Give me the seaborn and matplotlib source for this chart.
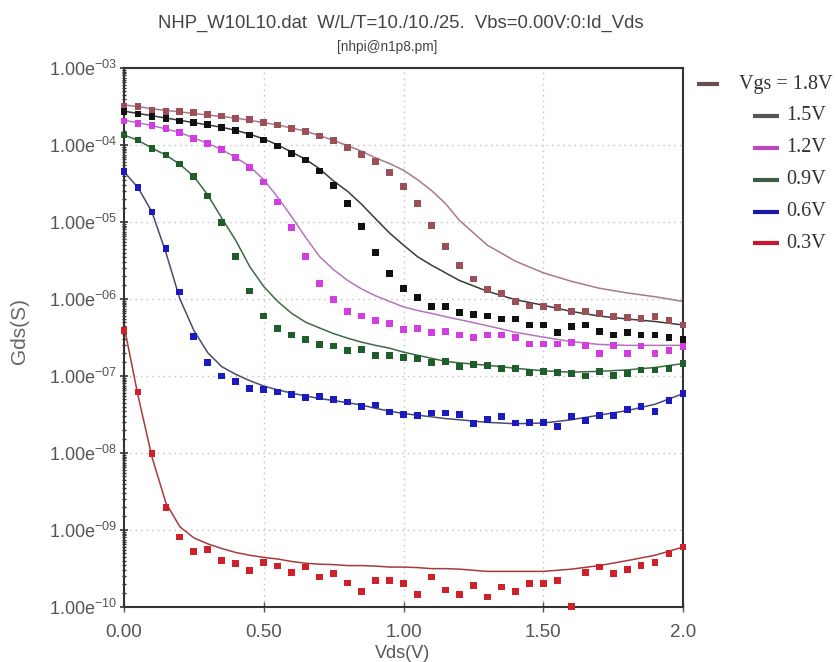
import matplotlib
matplotlib.use("Agg")
import numpy as np
import matplotlib.pyplot as plt
from matplotlib.lines import Line2D
from matplotlib.ticker import FixedLocator, LogLocator, FuncFormatter, NullFormatter
import seaborn as sns


# measured points, Vds step 0.05 V
vds = [0.00, 0.05, 0.10, 0.15, 0.20, 0.25, 0.30, 0.35, 0.40, 0.45,
       0.50, 0.55, 0.60, 0.65, 0.70, 0.75, 0.80, 0.85, 0.90, 0.95,
       1.00, 1.05, 1.10, 1.15, 1.20, 1.25, 1.30, 1.35, 1.40, 1.45,
       1.50, 1.55, 1.60, 1.65, 1.70, 1.75, 1.80, 1.85, 1.90, 1.95, 2.00]

meas_18 = [3.14e-4, 3.14e-4, 2.84e-4, 2.70e-4, 2.70e-4, 2.62e-4, 2.50e-4, 2.38e-4, 2.22e-4, 2.15e-4,
           1.95e-4, 1.82e-4, 1.64e-4, 1.49e-4, 1.31e-4, 1.14e-4, 9.3e-5, 7.6e-5, 6.05e-5, 4.36e-5,
           2.92e-5, 1.74e-5, 9.1e-6, 4.8e-6, 2.75e-6, 1.82e-6, 1.32e-6, 1.17e-6, 9.3e-7, 8.1e-7,
           7.9e-7, 7.8e-7, 6.9e-7, 6.8e-7, 6.5e-7, 5.9e-7, 5.75e-7, 5.6e-7, 5.9e-7, 5.25e-7, 4.6e-7]
meas_15 = [2.70e-4, 2.52e-4, 2.33e-4, 2.22e-4, 2.05e-4, 1.97e-4, 1.85e-4, 1.67e-4, 1.53e-4, 1.35e-4,
           1.16e-4, 9.7e-5, 7.8e-5, 6.4e-5, 4.6e-5, 3.0e-5, 1.74e-5, 8.7e-6, 4.0e-6, 2.14e-6,
           1.36e-6, 1.05e-6, 7.9e-7, 7.9e-7, 6.6e-7, 6.3e-7, 6.0e-7, 5.5e-7, 5.5e-7, 4.6e-7,
           4.6e-7, 3.7e-7, 4.4e-7, 4.6e-7, 3.8e-7, 3.4e-7, 3.7e-7, 3.4e-7, 3.4e-7, 3.2e-7, 3.0e-7]
meas_12 = [2.05e-4, 1.91e-4, 1.78e-4, 1.62e-4, 1.45e-4, 1.22e-4, 1.05e-4, 8.8e-5, 6.8e-5, 5.1e-5,
           3.3e-5, 1.82e-5, 8.5e-6, 3.55e-6, 1.58e-6, 9.8e-7, 6.9e-7, 6.0e-7, 5.25e-7, 4.8e-7,
           4.0e-7, 4.1e-7, 3.7e-7, 3.8e-7, 3.4e-7, 3.2e-7, 3.4e-7, 3.4e-7, 3.2e-7, 2.6e-7,
           2.6e-7, 2.6e-7, 2.7e-7, 2.5e-7, 1.95e-7, 2.5e-7, 1.95e-7, 2.45e-7, 1.95e-7, 2.15e-7, 2.4e-7]
meas_09 = [1.35e-4, 1.16e-4, 9.0e-5, 7.4e-5, 5.65e-5, 3.86e-5, 2.17e-5, 9.8e-6, 3.6e-6, 1.27e-6,
           6.0e-7, 4.1e-7, 3.4e-7, 2.95e-7, 2.57e-7, 2.45e-7, 2.15e-7, 2.2e-7, 1.86e-7, 1.86e-7,
           1.74e-7, 1.7e-7, 1.51e-7, 1.55e-7, 1.32e-7, 1.41e-7, 1.38e-7, 1.26e-7, 1.26e-7, 1.12e-7,
           1.15e-7, 1.12e-7, 1.07e-7, 1.0e-7, 1.15e-7, 1.02e-7, 1.07e-7, 1.2e-7, 1.2e-7, 1.26e-7, 1.45e-7]
meas_06 = [4.5e-5, 2.8e-5, 1.35e-5, 4.5e-6, 1.23e-6, 3.27e-7, 1.48e-7, 1.0e-7, 8.5e-8, 6.8e-8,
           6.6e-8, 6.2e-8, 5.75e-8, 5.25e-8, 5.4e-8, 4.9e-8, 4.6e-8, 4.0e-8, 4.2e-8, 3.4e-8,
           3.16e-8, 3.1e-8, 3.3e-8, 3.3e-8, 3.16e-8, 2.4e-8, 2.75e-8, 2.95e-8, 2.45e-8, 2.5e-8,
           2.5e-8, 2.2e-8, 2.95e-8, 2.63e-8, 3.1e-8, 3.1e-8, 3.7e-8, 4.0e-8, 3.5e-8, 4.8e-8, 5.9e-8]
meas_03 = [3.9e-7, 6.2e-8, 9.8e-9, 1.95e-9, 8.1e-10, 5.25e-10, 5.6e-10, 4.0e-10, 3.7e-10, 3.0e-10,
           3.8e-10, 3.4e-10, 2.8e-10, 3.3e-10, 2.45e-10, 2.75e-10, 2.05e-10, 1.58e-10, 2.2e-10, 2.2e-10,
           2.0e-10, 1.45e-10, 2.45e-10, 1.66e-10, 1.45e-10, 1.9e-10, 1.35e-10, 1.82e-10, 1.58e-10, 2.0e-10,
           2.0e-10, 2.2e-10, 1.02e-10, 2.8e-10, 3.3e-10, 2.7e-10, 3.1e-10, 3.5e-10, 3.8e-10, 4.9e-10, 6.0e-10]

# model curves
sim_vds = [0.00, 0.05, 0.10, 0.15, 0.20, 0.25, 0.30, 0.35, 0.40, 0.45, 0.50,
           0.55, 0.60, 0.65, 0.70, 0.75, 0.80, 0.85, 0.90, 0.95, 1.00, 1.05,
           1.10, 1.15, 1.20, 1.30, 1.40, 1.50, 1.60, 1.70, 1.80, 1.90, 2.00]

sim_18 = [3.31e-4, 3.16e-4, 2.95e-4, 2.82e-4, 2.69e-4, 2.57e-4, 2.45e-4, 2.34e-4, 2.24e-4, 2.09e-4, 1.95e-4,
          1.82e-4, 1.66e-4, 1.51e-4, 1.32e-4, 1.15e-4, 9.8e-5, 8.3e-5, 6.8e-5, 5.75e-5, 4.7e-5, 3.55e-5,
          2.57e-5, 1.74e-5, 1.05e-5, 5.0e-6, 3.1e-6, 2.19e-6, 1.70e-6, 1.38e-6, 1.20e-6, 1.07e-6, 9.3e-7]
sim_15 = [2.75e-4, 2.57e-4, 2.40e-4, 2.24e-4, 2.09e-4, 1.95e-4, 1.82e-4, 1.70e-4, 1.55e-4, 1.38e-4, 1.20e-4,
          1.0e-4, 8.1e-5, 6.5e-5, 4.9e-5, 3.4e-5, 2.5e-5, 1.70e-5, 1.10e-5, 7.2e-6, 5.0e-6, 3.55e-6,
          2.75e-6, 2.19e-6, 1.74e-6, 1.26e-6, 9.8e-7, 8.3e-7, 6.9e-7, 6.0e-7, 5.5e-7, 5.1e-7, 4.6e-7]
sim_12 = [2.09e-4, 1.95e-4, 1.78e-4, 1.62e-4, 1.45e-4, 1.23e-4, 1.05e-4, 8.7e-5, 6.9e-5, 5.25e-5, 3.55e-5,
          2.09e-5, 1.17e-5, 6.3e-6, 3.55e-6, 2.4e-6, 1.74e-6, 1.35e-6, 1.10e-6, 9.3e-7, 7.9e-7, 7.1e-7,
          6.5e-7, 5.9e-7, 5.4e-7, 4.5e-7, 3.7e-7, 3.2e-7, 2.8e-7, 2.57e-7, 2.5e-7, 2.5e-7, 2.5e-7]
sim_09 = [1.35e-4, 1.15e-4, 9.1e-5, 7.4e-5, 5.6e-5, 3.9e-5, 2.24e-5, 1.12e-5, 5.75e-6, 2.63e-6, 1.45e-6,
          9.3e-7, 6.5e-7, 5.0e-7, 4.2e-7, 3.55e-7, 3.1e-7, 2.75e-7, 2.5e-7, 2.3e-7, 2.04e-7, 1.86e-7,
          1.70e-7, 1.55e-7, 1.48e-7, 1.38e-7, 1.26e-7, 1.17e-7, 1.12e-7, 1.15e-7, 1.20e-7, 1.29e-7, 1.45e-7]
sim_06 = [4.5e-5, 2.8e-5, 1.35e-5, 4.0e-6, 1.0e-6, 3.9e-7, 2.0e-7, 1.32e-7, 1.05e-7, 8.7e-8, 7.4e-8,
          6.6e-8, 6.0e-8, 5.5e-8, 5.1e-8, 4.8e-8, 4.5e-8, 4.2e-8, 3.8e-8, 3.5e-8, 3.25e-8, 3.1e-8,
          2.95e-8, 2.8e-8, 2.7e-8, 2.5e-8, 2.4e-8, 2.45e-8, 2.7e-8, 3.1e-8, 3.55e-8, 4.3e-8, 5.9e-8]
sim_03 = [4.5e-7, 5.6e-8, 8.9e-9, 2.24e-9, 1.10e-9, 7.9e-10, 6.6e-10, 5.75e-10, 5.1e-10, 4.7e-10, 4.4e-10,
          4.2e-10, 3.9e-10, 3.7e-10, 3.6e-10, 3.55e-10, 3.45e-10, 3.45e-10, 3.4e-10, 3.3e-10, 3.3e-10, 3.25e-10,
          3.15e-10, 3.15e-10, 3.1e-10, 2.9e-10, 2.9e-10, 2.9e-10, 3.1e-10, 3.45e-10, 4.0e-10, 4.7e-10, 6.0e-10]

y_ticks = [1e-10, 1e-9, 1e-8, 1e-7, 1e-6, 1e-5, 1e-4, 1e-3]
x_ticks = [0.0, 0.5, 1.0, 1.5, 2.0]
x_tick_labels = ["0.00", "0.50", "1.00", "1.50", "2.0"]

legend_labels = ["Vgs = 1.8V", "1.5V", "1.2V", "0.9V", "0.6V", "0.3V"]
marker_colors = ["#9b4f57", "#111111", "#d23ce0", "#1e5e2a", "#1a1ac0", "#d0202a"]
line_colors = ["#a87a88", "#3a3a3a", "#b474bc", "#3d6a45", "#4a4a72", "#a83a3a"]
legend_colors = ["#6b4a52", "#555555", "#b848c0", "#3a5e45", "#1818a8", "#c81830"]

measured = [meas_18, meas_15, meas_12, meas_09, meas_06, meas_03]
simulated = [sim_18, sim_15, sim_12, sim_09, sim_06, sim_03]

sns.set_theme(style="white")
plt.rcParams['font.family'] = ['Liberation Sans', 'DejaVu Sans']
plt.rcParams['mathtext.default'] = 'regular'

W, H = 838, 662
fig = plt.figure(figsize=(W / 100, H / 100), dpi=100)
ax = fig.add_axes([124 / W, 1 - 607 / H, (683 - 124) / W, (607 - 68) / H])

ax.set_yscale('log')
for sim, meas, lc, mc in zip(simulated, measured, line_colors, marker_colors):
    sns.lineplot(x=sim_vds, y=sim, color=lc, lw=1.1, ax=ax, legend=False, zorder=2)
    sns.scatterplot(x=vds, y=meas, marker='s', s=24, color=mc, edgecolor='none',
                    ax=ax, legend=False, zorder=3, clip_on=False)

ax.set_xlim(0, 2.0)
ax.set_ylim(1e-10, 1e-3)

ax.xaxis.set_major_locator(FixedLocator(x_ticks))
ax.set_xticklabels(x_tick_labels)
ax.yaxis.set_major_locator(FixedLocator(y_ticks))
ax.yaxis.set_minor_locator(LogLocator(base=10, subs=[1.5, 2, 2.5, 3, 3.5, 4, 4.5, 5, 5.5, 6, 6.5, 7, 7.5, 8, 8.5, 9, 9.5], numticks=200))
ax.yaxis.set_minor_formatter(NullFormatter())
ax.yaxis.set_major_formatter(FuncFormatter(lambda v, p: "1.00e$^{-%02d}$" % round(-np.log10(v))))

ax.tick_params(axis='y', which='major', direction='inout', length=6, width=1.2,
               labelsize=13, labelcolor='#555555', color='#333333', left=True, pad=2)
ax.tick_params(axis='y', which='minor', direction='inout', length=3, width=1, color='#333333', left=True)
ax.tick_params(axis='x', which='major', direction='inout', length=7, width=1, bottom=True,
               labelsize=13.5, labelcolor='#555555', color='#555555', pad=9)

ax.grid(True, which='major', color='#c0c0c0', linestyle=(0, (1, 3)), lw=1)
for sp in ax.spines.values():
    sp.set_color('#333333')
    sp.set_linewidth(1.5)

# axis titles
fig.text(20 / W, 1 - 331 / H, "Gds(S)", rotation=90, ha='center', va='center',
         fontsize=15, color='#666666')
fig.text(403 / W, 1 - 654 / H, "Vds(V)", ha='center', va='center',
         fontsize=13, color='#555555')

fig.text(401 / W, 1 - 23 / H, "NHP_W10L10.dat  W/L/T=10./10./25.  Vbs=0.00V:0:Id_Vds",
         ha='center', va='center', fontsize=13.3, color='#444444')
fig.text(387 / W, 1 - 47 / H, "[nhpi@n1p8.pm]", ha='center', va='center',
         fontsize=9.8, color='#444444')

# legend drawn beside the frame
rows_y = [84, 116, 148, 180, 212, 243]
for i, (lab, col, ry) in enumerate(zip(legend_labels, legend_colors, rows_y)):
    if i == 0:
        x0, x1, tx = 697, 719, 739
    else:
        x0, x1, tx = 753, 779, 786
    fig.add_artist(Line2D([x0 / W, x1 / W], [1 - ry / H, 1 - ry / H], color=col, lw=3,
                          transform=fig.transFigure, solid_capstyle='butt'))
    fig.text(tx / W, 1 - ry / H, lab, ha='left', va='center', fontsize=14.5,
             color='#333333', family=['Liberation Serif', 'DejaVu Serif'])

fig.savefig("out.png", dpi=100)
